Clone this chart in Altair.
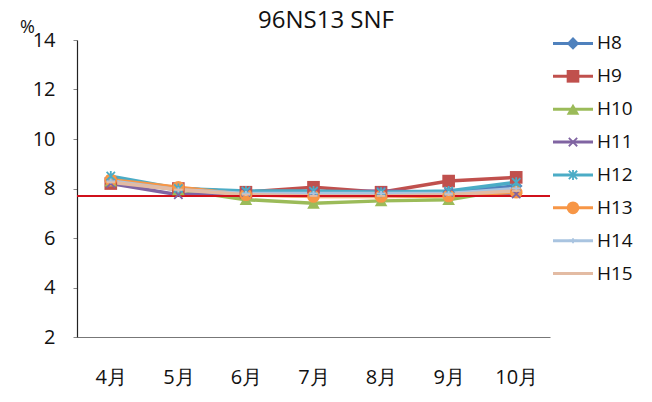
import altair as alt
import pandas as pd

months = ["4月", "5月", "6月", "7月", "8月", "9月", "10月"]
series = ["H8", "H9", "H10", "H11", "H12", "H13", "H14", "H15"]
values = {
    "H8":  [8.30, 8.00, 7.85, 7.85, 7.80, 7.85, 8.10],
    "H9":  [8.20, 8.00, 7.85, 8.05, 7.85, 8.30, 8.45],
    "H10": [8.30, 7.95, 7.55, 7.40, 7.50, 7.55, 8.00],
    "H11": [8.20, 7.75, 7.85, 7.85, 7.90, 7.85, 7.78],
    "H12": [8.50, 8.00, 7.90, 7.90, 7.85, 7.90, 8.25],
    "H13": [8.35, 8.05, 7.75, 7.68, 7.68, 7.70, 7.85],
    "H14": [8.30, 7.95, 7.80, 7.80, 7.80, 7.80, 8.00],
    "H15": [8.25, 7.95, 7.75, 7.70, 7.70, 7.75, 7.90],
}
reference_value = [7.7]
title_text = ["96NS13 SNF"]
colors = ["#4F81BD", "#C0504D", "#9BBB59", "#8064A2", "#4BACC6", "#F79646", "#A9C4E0", "#E3BBA3"]
shapes = [
    "diamond",
    "square",
    "triangle-up",
    "M-1,-1L1,1M-1,1L1,-1",
    "M-1,-1L1,1M-1,1L1,-1M0,-1.2V1.2",
    "circle",
    "M-1,0H1M0,-0.6V0.6",
    "M-1,0H1",
]
filled_series = ["H8", "H9", "H10", "H13"]
stroked_series = ["H11", "H12", "H14", "H15"]

rows = []
for s in series:
    for i, m in enumerate(months):
        rows.append({"series": s, "month": m, "value": values[s][i], "order": i})
df = pd.DataFrame(rows)
ref_df = pd.DataFrame({"v": reference_value})
leg_df = pd.DataFrame({"series": series})
title_df = pd.DataFrame({"t": title_text})

FONT = "Open Sans"

color_scale = alt.Scale(domain=series, range=colors)
shape_scale = alt.Scale(domain=series, range=shapes)

x_enc = alt.X("month:N", sort=months, scale=alt.Scale(type="point", padding=0.5),
              axis=alt.Axis(title=None, labelAngle=0, labelFontSize=20, labelFont=FONT,
                            labelColor="#111", tickSize=0, labelPadding=30,
                            domainColor="#777", domainWidth=1.2, grid=False))
y_enc = alt.Y("value:Q", scale=alt.Scale(domain=[2, 14], nice=False, zero=False),
              axis=alt.Axis(values=[2, 4, 6, 8, 10, 12, 14], title="%", titleAngle=0,
                            titleX=-50, titleY=-13, titleAlign="center", titleBaseline="middle",
                            titleFontSize=18, titleFont=FONT,
                            titleFontWeight="normal", titleColor="#111",
                            labelFontSize=20, labelFont=FONT, labelColor="#111",
                            tickSize=4, tickColor="#888", labelPadding=18,
                            domainColor="#222", domainWidth=1.2, grid=False))

ref = alt.Chart(ref_df).mark_rule(color="#D0101B", strokeWidth=2).encode(y=alt.Y("v:Q"))

lines = alt.Chart(df).mark_line(strokeWidth=3.5).encode(
    x=x_enc, y=y_enc,
    color=alt.Color("series:N", scale=color_scale, legend=None),
    detail="series:N", order="order:Q",
)

pts_filled = alt.Chart(df).transform_filter(
    alt.FieldOneOfPredicate(field="series", oneOf=filled_series)
).mark_point(filled=True, size=160, opacity=1).encode(
    x=alt.X("month:N", sort=months), y="value:Q",
    color=alt.Color("series:N", scale=color_scale, legend=None),
    shape=alt.Shape("series:N", scale=shape_scale, legend=None),
)

pts_stroked = alt.Chart(df).transform_filter(
    alt.FieldOneOfPredicate(field="series", oneOf=stroked_series)
).mark_point(filled=False, size=70, strokeWidth=1.8, opacity=1).encode(
    x=alt.X("month:N", sort=months), y="value:Q",
    color=alt.Color("series:N", scale=color_scale, legend=None),
    shape=alt.Shape("series:N", scale=shape_scale, legend=None),
)

leg_y = alt.Y("series:N", sort=series, scale=alt.Scale(type="point", domain=series, range=[-13, 250]), axis=None)

leg_line = alt.Chart(leg_df).mark_rule(strokeWidth=3).encode(
    x=alt.value(476), x2=alt.value(516), y=leg_y,
    color=alt.Color("series:N", scale=color_scale, legend=None),
)
leg_pts_f = alt.Chart(leg_df).transform_filter(
    alt.FieldOneOfPredicate(field="series", oneOf=filled_series)
).mark_point(filled=True, size=160, opacity=1).encode(
    x=alt.value(496), y=leg_y,
    color=alt.Color("series:N", scale=color_scale, legend=None),
    shape=alt.Shape("series:N", scale=shape_scale, legend=None),
)
leg_pts_s = alt.Chart(leg_df).transform_filter(
    alt.FieldOneOfPredicate(field="series", oneOf=stroked_series)
).mark_point(filled=False, size=70, strokeWidth=1.8, opacity=1).encode(
    x=alt.value(496), y=leg_y,
    color=alt.Color("series:N", scale=color_scale, legend=None),
    shape=alt.Shape("series:N", scale=shape_scale, legend=None),
)
leg_text = alt.Chart(leg_df).mark_text(align="left", baseline="middle", fontSize=19, font=FONT,
                                        color="#111").encode(
    x=alt.value(520), y=leg_y, text="series:N",
)

title_mark = alt.Chart(title_df).mark_text(align="center", baseline="middle", fontSize=24,
                                           font=FONT, color="#111").encode(
    x=alt.value(249), y=alt.value(-19), text="t:N",
)

main = alt.layer(lines, ref, pts_filled, pts_stroked)
legend = alt.layer(leg_line, leg_pts_f, leg_pts_s, leg_text, title_mark)

chart = alt.layer(main, legend).resolve_scale(y="independent").properties(
    width=473, height=297,
    autosize=alt.AutoSizeParams(type="none"),
    padding={"left": 69, "top": 32, "right": 94, "bottom": 57},
    background="white",
).configure_view(stroke=None)

chart.save("out.html", embed_options={"renderer": "svg", "actions": False})
